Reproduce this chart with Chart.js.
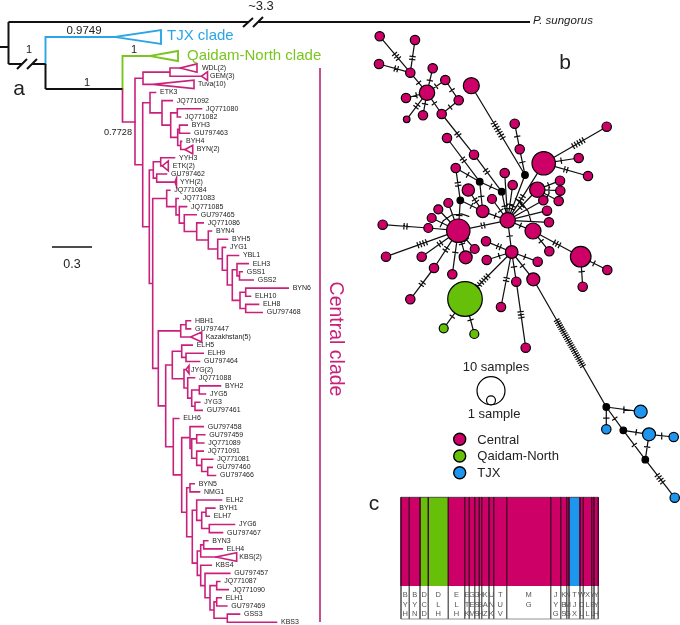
<!DOCTYPE html>
<html><head><meta charset="utf-8">
<style>html,body{margin:0;padding:0;background:#fff}canvas{display:block}</style>
<script src="https://cdn.jsdelivr.net/npm/chart.js@4/dist/chart.umd.js"></script>
</head><body><canvas id="c" width="680" height="625"></canvas>
<script>
// ---------- panel a: tips, in display order ----------
const tipNames=['WDL(2)','GEM(3)','Tuva(10)','ETK3','JQ771092','JQ771080','JQ771082','BYH3','GU797463','BYH4','BYN(2)','YYH3','ETK(2)','GU797462','YYH(2)','JQ771084','JQ771083','JQ771085','GU797465','JQ771086','BYN4','BYH5','JYG1','YBL1','ELH3','GSS1','GSS2','BYN6','ELH10','ELH8','GU797468','HBH1','GU797447','Kazakhstan(5)','ELH5','ELH9','GU797464','JYG(2)','JQ771088','BYH2','JYG5','JYG3','GU797461','ELH6','GU797458','GU797459','JQ771089','JQ771091','JQ771081','GU797460','GU797466','BYN5','NMG1','ELH2','BYH1','ELH7','JYG6','GU797467','BYN3','ELH4','KBS(2)','KBS4','GU797457','JQ771087','JQ771090','ELH1','GU797469','GSS3','KBS3'];
const tipLabelX=[202,210,198,160,176.7,206,185,191.7,194,186,196.7,179,172.7,171,180,174.3,182.7,191,200.7,207.7,216,232,230,243,252.7,246.7,257.7,292.7,255,263,266.7,195,195,205.7,196.7,207.7,204,191,199,225,210,204.3,206.7,183.3,207.7,209.3,208.3,207.7,217.3,216.7,220,198.7,204,226,219.3,213.7,239,227,212.3,226.7,239.3,215.7,234.3,224.3,232.7,225.7,231.3,244,281];
// collapsed clades: name -> [apex, right edge, half height]
const collapsedTips={'WDL(2)':[180,197,4.2],'GEM(3)':[201.5,207.5,4.3],'Tuva(10)':[153,194,4.2],'BYN(2)':[185,192.7,4.3],'ETK(2)':[162.3,168.3,5],'YYH(2)':[175,176.5,4],'Kazakhstan(5)':[190.7,201.7,5],'JYG(2)':[186,189,4],'KBS(2)':[215.7,236.7,4.3]};
// tree: [node depth, ...children]; a child is a nested node or a tip name
const centralTree=[135,
 [143,[170,'WDL(2)','GEM(3)'],'Tuva(10)'],
 [142.7,
  [150,'ETK3',[162,'JQ771092',[170.7,[177.3,'JQ771080','JQ771082'],[177.7,[179.5,'BYH3','GU797463'],[180.7,'BYH4','BYN(2)']]]]],
  [149.3,
   [153.3,[160.7,'YYH3','ETK(2)'],[156.7,'GU797462','YYH(2)']],
   [152.7,
    [166.7,'JQ771084',[176,'JQ771083',[179.3,'JQ771085',[184.3,'GU797465',[196.7,'JQ771086',[208.3,'BYN4',[217.7,'BYH5',[222.3,'JYG1',[227.3,'YBL1',[232.3,[237,'ELH3',[239.5,'GSS1','GSS2']],[240,[245.7,'BYN6','ELH10'],[245.7,'ELH8','GU797468']]]]]]]]]]]],
    [158.3,
     [180.7,[186,'HBH1','GU797447'],'Kazakhstan(5)'],
     [165.7,
      [172.3,[181.7,'ELH5',[186,'ELH9','GU797464']],[184,'JYG(2)',[187.7,'JQ771088',[191.7,[199.3,'BYH2','JYG5'],[195,'JYG3','GU797461']]]]],
      [173.3,'ELH6',[181.7,
        [190,'GU797458',[191.7,[196.7,'GU797459','JQ771089'],[196.7,'JQ771091',[201.7,'JQ771081',[207.7,'GU797460','GU797466']]]]],
        [186.7,[190,'BYN5','NMG1'],
         [192.3,[196.7,'ELH2',[201.7,[206,'BYH1','ELH7'],[209.3,'JYG6','GU797467']]],
          [197.3,[200.7,[203.7,'BYN3','ELH4'],'KBS(2)'],
           [200.7,'KBS4',[205,'GU797457',[210,[216.7,'JQ771087','JQ771090'],[214,[216.7,'ELH1','GU797469'],[227.3,'GSS3','KBS3']]]]]]]]]]]]]]]];
const blackBranches=[[0,47,8.5,47],[8.5,22,8.5,64],[8.5,22,248,22],[258,22,530,22],[8.5,64,22,64],[32,64,45.5,64],[45.5,64,45.5,89],[45.5,89,122.5,89],[243,27,253,18],[253,27,263,17],[17,69,27,59],[27,69,37,59]];
const blueBranches=[[45.5,64,45.5,37],[45.5,37,115,37],[115,37,161,30,161,44,115,37]];
const greenBranches=[[122.5,89,122.5,56],[122.5,56,150,56],[150,56,178,51,178,61,150,56]];
const pinkStem=[[122.5,89,122.5,122],[122.5,122,135,122]];
const cladeBar=[[320,68,320,622]];
const scaleBar=[[52,247,92,247]];

// ---------- panel b: haplotype network [x,y,radius,group] ----------
const netNodes={n1:[379.7,36.3,4.7,'C'],n2:[415,40,4.7,'C'],n3:[379,64,4.7,'C'],n4:[410.3,72.7,4.7,'C'],n5:[432.7,68.3,4.7,'C'],n6:[427,92.7,7.7,'C'],n7:[445.3,80,4.7,'C'],n8:[458.7,100.3,4.7,'C'],n9:[441.7,114,4.7,'C'],n10:[406,98,4.7,'C'],n11:[406.7,119.3,3.3,'C'],n12:[423,115.3,4.7,'C'],n13:[471.3,85.7,8,'C'],n14:[514.7,123.7,4.7,'C'],n15:[519.7,149.3,4.7,'C'],n16:[606.7,126.7,4.7,'C'],n17:[543.7,163.3,11.7,'C'],n18:[578.7,158,4.7,'C'],n19:[588,176,4.7,'C'],n20:[447,138,4.7,'C'],n21:[474,154.7,4.7,'C'],n22:[455.7,168,4.7,'C'],n23:[504.7,173,4.7,'C'],n24:[512.7,185,4.7,'C'],n25:[468.3,190,6.2,'C'],n27:[492,199,4.5,'C'],n28:[482.7,211.3,6.3,'C'],n29:[507.7,220.3,7.7,'C'],n30:[458.3,230.7,11.7,'C'],n31:[448.3,203,4.5,'C'],n32:[438.3,209.3,4.5,'C'],n33:[431.7,218,4.5,'C'],n34:[428.3,228,4.5,'C'],n35:[382.7,224.7,4.7,'C'],n36:[386,256.7,4.7,'C'],n37:[421.7,256.7,4.7,'C'],n38:[434,268,4.7,'C'],n39:[410.3,299.3,4.7,'C'],n40:[452.3,274.3,4.7,'C'],n41:[465.7,257.3,6.5,'C'],n42:[474.7,249,4.5,'C'],n43:[486,241.3,4.7,'C'],n44:[486.7,260,4.7,'C'],n45:[511.7,252,6.3,'C'],n46:[537.7,261.7,4.7,'C'],n47:[533,231,8,'C'],n48:[549.3,251.3,4.7,'C'],n49:[549,222.3,4.7,'C'],n50:[547,210.7,4.7,'C'],n51:[543.3,200.3,4.7,'C'],n52:[558.7,201,4.7,'C'],n53:[560.3,190.7,4.7,'C'],n54:[560,180.7,4.7,'C'],n55:[537.3,189.7,7.7,'C'],n56:[580.7,256.7,10.3,'C'],n57:[607.3,270,4.7,'C'],n58:[582.7,286.7,4.7,'C'],n59:[533.3,279.3,6.5,'C'],n60:[516.3,281.7,4.7,'C'],n61:[501,307,4.7,'C'],n62:[525.7,347.7,4.7,'C'],
g1:[465,299,17.3,'Q'],g2:[443.7,328.3,4.5,'Q'],g3:[474.3,334,4.5,'Q'],
t1:[640.7,411.7,6.5,'T'],t2:[606.3,429.3,4.7,'T'],t3:[649,434.3,6.5,'T'],t4:[673.7,437,4.7,'T'],t5:[674.7,497.7,4.7,'T'],
k1:[525,175,3.3,'K'],k2:[479.7,181.7,3.3,'K'],k3:[501.7,191.7,3.3,'K'],k4:[460.3,200.3,3.3,'K'],k5:[606.3,407,3.3,'K'],k6:[623.3,430.3,3.3,'K'],k7:[645.3,459.7,3.3,'K']};
// [from, to, mutation ticks, position along edge, tick spacing]
const netEdges=[['n1','n4',3,.55],['n2','n4',2,.55],['n3','n4',2,.55],['n4','n6',1],['n5','n6',1],['n6','n7',1],['n7','n8',1],['n8','n9',1],['n9','n6',1],['n10','n6',1],['n11','n6',2],['n12','n6',1],['n9','n21',2],['n21','k3',2,.45],['k3','n29',1],['n20','k2',2,.5],['n22','k2',1],['k2','k3',1],['n13','k1',7,.5],['n14','n15',1],['n15','k1',1],['k1','n29',2,.72],['n16','n17',5,.45],['n18','n17',1],['n19','n17',2],['n17','n29',3,.62],['n23','n29',1,.75],['n24','n29',1,.55],['n27','n29',1,.55],['n25','n28',2],['n22','k4',2],['k4','n28',1],['k2','n28',1],['n28','n29',1],['n29','n30',2],['n31','n30',0],['n32','n30',0],['n33','n30',0],['n34','n30',0],['n35','n34',2],['k4','n30',1],['n36','n30',4,.5],['n37','n30',2],['n38','n30',2],['n39','n38',2],['n40','n30',1],['n41','n30',1],['n42','n30',1],['n43','n45',2],['n44','n45',1],['n46','n45',1],['n29','n45',1],['n47','n29',1],['n48','n47',1],['n47','n56',3],['n56','n57',1],['n56','n58',1],['n45','n59',1],['n45','n60',1],['n45','n61',2],['n60','n62',3],['n45','g1',6,.62],['g1','g2',1,.6],['g1','g3',1,.6],['n50','n29',0],['n49','n29',0],['n51','n29',0],['n55','n29',2,.55],['n55','n52',1],['n55','n53',1],['n55','n54',1],['n59','k5',24,.5,2.3],['k5','t1',1],['k5','t2',1],['k5','k6',1],['k6','t3',1],['k6','k7',1],['t3','k7',1],['t3','t4',1],['k7','t5',4]];
const netArcs=[[515,198.3,523.3,205,528.3,211.7,531,221.7],[440,227.3,443.3,220.7,451.7,215,461.7,214,469.3,216.7]];
const groupColors={C:'#CC0066',Q:'#66BF08',T:'#1E96EE',K:'#000000'};
const sizeKey=[[491,390.7,14],[491,400.3,4.5]];
const colorKey=[[459.7,439.3,6,'C'],[459.7,456,6,'Q'],[459.7,472.7,6,'T']];

// ---------- panel c: population bar ----------
const barPops=['BYH','BYN','DCD','DLH','ELH','ETK','GEM','GSS','HBH','KAZ','UNK','TUV','MG','JYG','KBS','NMG','TJX','WDL','XLL','YBL','YYH'];
const barEdges=[401,409.3,420,428.3,448.3,464.7,469.3,474.7,479.3,481.7,489,493.7,506.7,550.7,560.7,566.7,569,580,583.3,591.7,594,598.3];
const barGroups=['C','C','Q','Q','C','C','C','C','C','C','C','C','C','C','C','C','T','C','C','C','C'];
const barTop=497.3,barColorBottom=586,barBottom=619;

// ---------- text ----------
const PINK='#C9217B',BLUE='#2BA5E6',GREEN='#7AC520',TEXT='#222222';
const figureText=[
 ['~3.3',261,6,13,TEXT,'center'],['P. sungorus',533,20.5,11.5,TEXT,'left',0,true],
 ['0.9749',84,30.5,11.5,TEXT,'center'],['1',29,49.5,11,TEXT,'center'],['1',134,49.5,11,TEXT,'center'],['1',87,83,11,TEXT,'center'],['0.7728',118,132,9.2,TEXT,'center'],
 ['TJX clade',167,36,15,BLUE,'left'],['Qaidam-North clade',187,56,15,GREEN,'left'],['Central clade',335,339,19.5,PINK,'center',90],
 ['a',19,89,21,TEXT,'center'],['b',565,63,21,TEXT,'center'],['c',374,504,21,TEXT,'center'],['0.3',72,265,12.5,TEXT,'center'],
 ['10 samples',496,367,13,TEXT,'center'],['1 sample',494,414,13,TEXT,'center'],['Central',477.3,440,13,TEXT,'left'],['Qaidam-North',477.3,456.5,13,TEXT,'left'],['TJX',477.3,473,13,TEXT,'left']];

// ---------- builders ----------
const tipY=n=>68.05+tipNames.indexOf(n)*8.15;
const polyPts=list=>{const o=[];list.forEach(p=>{for(let i=0;i<p.length;i+=2)o.push({x:p[i],y:p[i+1]});o.push({x:NaN,y:NaN});});return o;};
const treeSegs=[];
function walk(node,parentX){
  if(typeof node==='string'){
    const y=tipY(node),c=collapsedTips[node];
    if(c){treeSegs.push([parentX,y,c[0],y],[c[0],y,c[1],y-c[2],c[1],y+c[2],c[0],y]);}
    else treeSegs.push([parentX,y,tipLabelX[tipNames.indexOf(node)]-4.5,y]);
    return y;
  }
  const ys=node.slice(1).map(ch=>walk(ch,node[0]));
  const a=ys[0],b=ys[ys.length-1],y=(a+b)/2;
  treeSegs.push([node[0],a,node[0],b]);
  if(parentX!==undefined)treeSegs.push([parentX,y,node[0],y]);
  return y;
}
walk(centralTree);

const edgeSegs=[];
netEdges.forEach(([a,b,t,pos,gap])=>{
  const A=netNodes[a],B=netNodes[b];
  edgeSegs.push([A[0],A[1],B[0],B[1]]);
  const dx=B[0]-A[0],dy=B[1]-A[1],L=Math.hypot(dx,dy),ux=dx/L,uy=dy/L,p=pos===undefined?.5:pos,s=gap||3;
  const cx=A[0]+dx*p,cy=A[1]+dy*p;
  for(let i=0;i<t;i++){const o=(i-(t-1)/2)*s,mx=cx+ux*o,my=cy+uy*o;
    edgeSegs.push([mx-uy*3.2,my+ux*3.2,mx+uy*3.2,my-ux*3.2]);}
});
netArcs.forEach(a=>edgeSegs.push(a));

const lineSet=(list,color,w,cap)=>({type:'scatter',showLine:true,data:polyPts(list),borderColor:color,borderWidth:w,pointRadius:0,fill:false,tension:0,borderCapStyle:cap||'square',borderJoinStyle:'miter',order:50});
const nodeList=Object.values(netNodes);
const datasets=[
 {data:nodeList.map(n=>({x:n[0],y:n[1]})),pointRadius:nodeList.map(n=>n[2]),pointHoverRadius:nodeList.map(n=>n[2]),pointBackgroundColor:nodeList.map(n=>groupColors[n[3]]),pointBorderColor:'#000',pointBorderWidth:1.2,showLine:false,order:1},
 {data:colorKey.map(n=>({x:n[0],y:n[1]})),pointRadius:colorKey.map(n=>n[2]),pointBackgroundColor:colorKey.map(n=>groupColors[n[3]]),pointBorderColor:'#000',pointBorderWidth:1.4,showLine:false,order:2},
 {data:sizeKey.map(n=>({x:n[0],y:n[1]})),pointRadius:sizeKey.map(n=>n[2]),pointBackgroundColor:'#fff',pointBorderColor:'#000',pointBorderWidth:1.2,showLine:false,order:3},
 lineSet(edgeSegs,'#111',1.25,'butt'),
 lineSet(blackBranches,'#111',2,'butt'),
 lineSet(blueBranches,BLUE,1.9),lineSet(greenBranches,GREEN,1.9),
 lineSet(treeSegs,PINK,1.6),lineSet(pinkStem,PINK,1.7),
 lineSet(cladeBar,'#BF2F80',1.7,'butt'),lineSet(scaleBar,'#111',1.6,'butt')
];
// bar columns are filled line datasets
barPops.forEach((p,i)=>datasets.push({type:'scatter',showLine:true,data:[{x:barEdges[i],y:barTop},{x:barEdges[i+1],y:barTop}],borderWidth:0,borderColor:groupColors[barGroups[i]],backgroundColor:groupColors[barGroups[i]],fill:{value:barColorBottom},pointRadius:0,order:60}));
datasets.push(lineSet(barEdges.map(x=>[x,barColorBottom,x,barBottom]),'#666',1,'butt'));
datasets.push(lineSet(barEdges.map(x=>[x,barTop,x,barColorBottom]),'#4a0a2c',1,'butt'));
datasets.push(lineSet([[barEdges[0],barTop,barEdges[21],barTop]],'#333',.8,'butt'));
datasets.push(lineSet([[barEdges[0],barBottom,barEdges[21],barBottom]],'#777',.8,'butt'));

const textPlugin={id:'figText',afterDatasetsDraw(chart){
  const {ctx,scales:{x,y}}=chart;
  ctx.save();ctx.textBaseline='middle';
  figureText.forEach(([s,px,py,size,col,al,rot,it])=>{
    ctx.save();ctx.translate(x.getPixelForValue(px),y.getPixelForValue(py));
    if(rot)ctx.rotate(rot*Math.PI/180);
    ctx.font=(it?'italic ':'')+size+'px "Liberation Sans",Arial,sans-serif';ctx.fillStyle=col;ctx.textAlign=al;ctx.fillText(s,0,0);ctx.restore();
  });
  ctx.font='7px "Liberation Sans",Arial,sans-serif';ctx.fillStyle='#222';ctx.textAlign='left';
  tipNames.forEach((n,i)=>ctx.fillText(n,x.getPixelForValue(tipLabelX[i]),y.getPixelForValue(tipY(n))));
  ctx.font='7.5px "Liberation Sans",Arial,sans-serif';ctx.fillStyle='#555';ctx.textAlign='center';
  barPops.forEach((p,i)=>{const cx=(barEdges[i]+barEdges[i+1])/2;
    [595.3,605,614].forEach((ry,j)=>{if(p[j])ctx.fillText(p[j],x.getPixelForValue(cx),y.getPixelForValue(ry));});});
  ctx.restore();
}};

new Chart(document.getElementById('c'),{type:'scatter',data:{datasets},plugins:[textPlugin],options:{responsive:false,animation:false,events:[],layout:{padding:0,autoPadding:false},
  plugins:{legend:{display:false},tooltip:{enabled:false}},
  scales:{x:{type:'linear',min:0,max:680,display:false},y:{type:'linear',min:0,max:625,reverse:true,display:false}}}});
</script></body></html>
